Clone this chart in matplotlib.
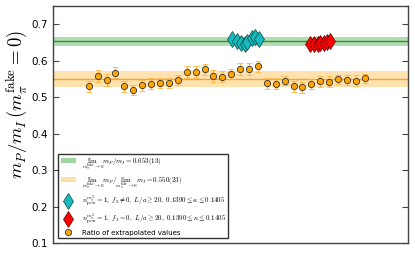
import numpy as np
import matplotlib
matplotlib.use("Agg")
from matplotlib import pyplot as plt
from matplotlib.patches import Patch

plt.rcParams['mathtext.fontset'] = 'cm'

# ratio of extrapolated values (orange points)
ratio_x = np.arange(1, 33)
ratio_y = [0.531, 0.559, 0.547, 0.568, 0.530, 0.520, 0.533, 0.537, 0.540, 0.539,
           0.547, 0.569, 0.569, 0.577, 0.558, 0.557, 0.565, 0.578, 0.577, 0.585,
           0.539, 0.537, 0.546, 0.530, 0.528, 0.537, 0.544, 0.543, 0.549, 0.547,
           0.546, 0.552]
ratio_err = [0.015, 0.016, 0.016, 0.016, 0.015, 0.014, 0.015, 0.015, 0.014, 0.014,
             0.013, 0.016, 0.016, 0.015, 0.016, 0.016, 0.014, 0.016, 0.017, 0.015,
             0.015, 0.015, 0.013, 0.015, 0.015, 0.014, 0.015, 0.015, 0.013, 0.014,
             0.014, 0.013]

# direct fits, f3 != 0 (cyan) and f3 = 0 (red)
cyan_x = [17.1, 17.7, 18.1, 18.5, 18.8, 19.3, 19.7, 20.1]
cyan_y = [0.661, 0.655, 0.649, 0.646, 0.652, 0.662, 0.664, 0.660]
red_x = [25.9, 26.3, 26.7, 27.0, 27.4, 27.8, 28.1]
red_y = [0.647, 0.645, 0.646, 0.648, 0.650, 0.652, 0.654]

# limits with errors
lim_direct, lim_direct_err = 0.653, 0.013
lim_ratio, lim_ratio_err = 0.550, 0.023

fig = plt.figure(figsize=(4.15, 2.54), dpi=100)
ax = fig.add_axes([0.128, 0.042, 0.854, 0.934])

ax.axhspan(lim_direct - lim_direct_err, lim_direct + lim_direct_err,
           color='#9fd59f', alpha=0.8, lw=0)
ax.axhline(lim_direct, color='#3a8a3a', lw=1)
ax.axhspan(lim_ratio - lim_ratio_err, lim_ratio + lim_ratio_err,
           color='#ffdfa8', alpha=0.9, lw=0)
ax.axhline(lim_ratio, color='#ffa31a', lw=1)

ax.plot(cyan_x, cyan_y, 'd', color='#17b9bb', mec='#0a4a4a', mew=0.5, ms=8.5)
ax.plot(red_x, red_y, 'd', color='red', mec='#5a0000', mew=0.5, ms=8.5)

ax.errorbar(ratio_x, ratio_y, yerr=ratio_err, fmt='o', color='orange',
            mec='#333333', mew=0.6, ms=4.5, ecolor='#ffb640', elinewidth=1,
            capsize=2.5, capthick=1)

ax.set_xlim(-3, 36.8)
ax.set_ylim(0.1, 0.75)
ax.set_xticks([])
ax.set_yticks([0.1, 0.2, 0.3, 0.4, 0.5, 0.6, 0.7])
ax.tick_params(axis='y', direction='in', labelsize=7.5, right=True, length=4,
               color='#444444')
for s in ax.spines.values():
    s.set_color('#444444')
    s.set_linewidth(1)
ax.set_ylabel(r'$m_P/m_I\,(m_\pi^{\rm fake}=0)$', fontsize=13.5)
ax.yaxis.set_label_coords(-0.065, 0.583)

handles = [
    Patch(facecolor='#9fd59f', edgecolor='none'),
    Patch(facecolor='#ffdfa8', edgecolor='none'),
    plt.Line2D([], [], ls='', marker='d', color='#17b9bb', mec='#0a4a4a', mew=0.5, ms=8.5),
    plt.Line2D([], [], ls='', marker='d', color='red', mec='#5a0000', mew=0.5, ms=8.5),
    plt.Line2D([], [], ls='', marker='o', color='orange', mec='#333333', mew=0.6, ms=4.5),
]
labels = [
    r'$\lim_{m_\pi^{\rm fake}\to 0} m_P/m_I = 0.653(13)$',
    r'$\lim_{m_\pi^{\rm fake}\to 0} m_P/\lim_{m_\pi^{\rm fake}\to 0} m_I = 0.550(23)$',
    r'$n_{\rm pow}^{m_\pi^2}=1,\ f_3\neq 0,\ L/a\geq 20,\ 0.1390\leq\kappa\leq 0.1405$',
    r'$n_{\rm pow}^{m_\pi^2}=1,\ f_3=0,\ L/a\geq 20,\ 0.1390\leq\kappa\leq 0.1405$',
    'Ratio of extrapolated values',
]
leg = ax.legend(handles, labels, loc='lower left', fontsize=5, frameon=True,
                fancybox=False, borderaxespad=0.7, handlelength=2.2,
                labelspacing=0.4)
leg.get_frame().set_edgecolor('black')
leg.get_frame().set_linewidth(1)

fig.savefig('out.png', dpi=100)
